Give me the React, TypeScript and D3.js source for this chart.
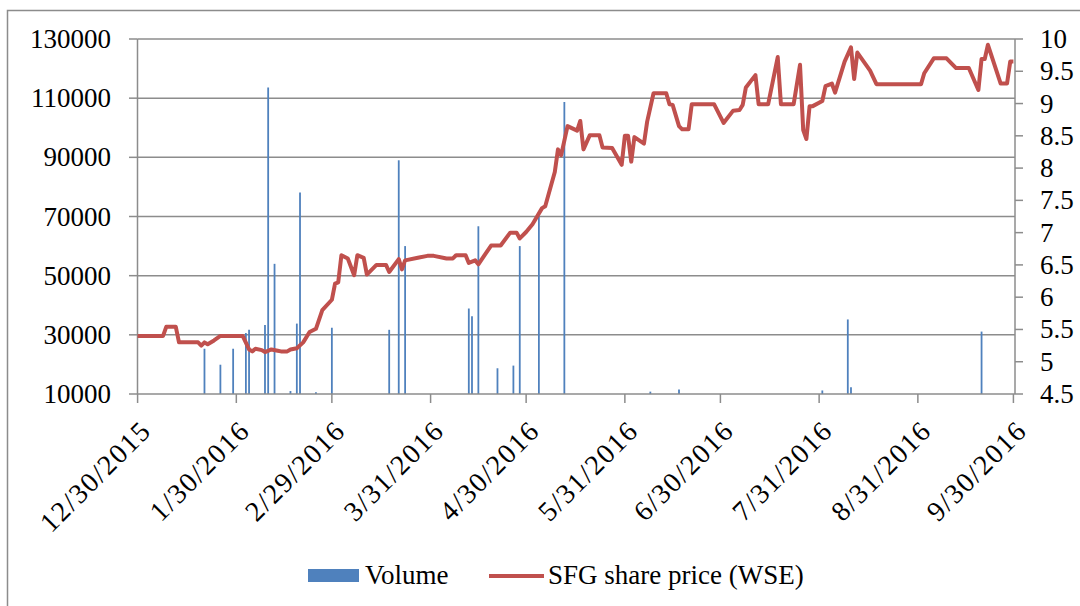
import React from "react";
import * as d3 from "d3";

const priceDates = [
  "2015-12-30","2016-01-07","2016-01-08","2016-01-11","2016-01-12","2016-01-18","2016-01-19","2016-01-20","2016-01-21","2016-01-23",
  "2016-01-25","2016-02-01","2016-02-03","2016-02-04","2016-02-05","2016-02-07","2016-02-08","2016-02-10","2016-02-12","2016-02-13",
  "2016-02-15","2016-02-16","2016-02-18","2016-02-20","2016-02-22","2016-02-24","2016-02-26","2016-02-29","2016-03-01","2016-03-02",
  "2016-03-03","2016-03-05","2016-03-07","2016-03-08","2016-03-10","2016-03-11","2016-03-14","2016-03-17","2016-03-18","2016-03-21",
  "2016-03-22","2016-03-23","2016-03-27","2016-03-30","2016-04-01","2016-04-05","2016-04-07","2016-04-08","2016-04-11","2016-04-12",
  "2016-04-14","2016-04-15","2016-04-19","2016-04-22","2016-04-25","2016-04-27","2016-04-28","2016-04-30","2016-05-02","2016-05-05",
  "2016-05-06","2016-05-09","2016-05-10","2016-05-11","2016-05-13","2016-05-16","2016-05-17","2016-05-18","2016-05-20","2016-05-23",
  "2016-05-24","2016-05-27","2016-05-30","2016-05-31","2016-06-01","2016-06-02","2016-06-03","2016-06-06","2016-06-07","2016-06-09",
  "2016-06-13","2016-06-14","2016-06-15","2016-06-17","2016-06-18","2016-06-20","2016-06-21","2016-06-28","2016-07-01","2016-07-04",
  "2016-07-06","2016-07-07","2016-07-08","2016-07-11","2016-07-12","2016-07-15","2016-07-18","2016-07-19","2016-07-23","2016-07-25",
  "2016-07-26","2016-07-27","2016-07-28","2016-07-29","2016-08-01","2016-08-02","2016-08-04","2016-08-05","2016-08-08","2016-08-10",
  "2016-08-11","2016-08-12","2016-08-16","2016-08-18","2016-08-19","2016-09-01","2016-09-02","2016-09-05","2016-09-09","2016-09-12",
  "2016-09-16","2016-09-19","2016-09-20","2016-09-21","2016-09-22","2016-09-26","2016-09-28","2016-09-29","2016-09-30"
];
const priceValues = [
  5.40,5.40,5.54,5.54,5.30,5.30,5.25,5.30,5.27,5.33,
  5.40,5.40,5.19,5.16,5.20,5.18,5.15,5.19,5.17,5.16,
  5.16,5.19,5.21,5.30,5.46,5.51,5.80,5.96,6.21,6.23,
  6.65,6.60,6.34,6.65,6.61,6.35,6.50,6.50,6.39,6.59,
  6.43,6.57,6.61,6.64,6.64,6.60,6.60,6.65,6.65,6.53,
  6.57,6.51,6.80,6.80,7.00,7.00,6.91,7.01,7.13,7.38,
  7.41,7.94,8.29,8.20,8.65,8.58,8.73,8.29,8.51,8.51,
  8.32,8.31,8.05,8.50,8.50,8.10,8.48,8.38,8.72,9.16,
  9.16,8.99,8.98,8.65,8.60,8.60,8.99,8.99,8.70,8.89,
  8.90,8.98,9.25,9.44,8.99,8.99,9.72,8.99,8.99,9.60,
  8.59,8.45,8.96,8.96,9.04,9.27,9.31,9.17,9.65,9.87,
  9.38,9.79,9.51,9.30,9.30,9.30,9.47,9.70,9.70,9.55,
  9.55,9.21,9.69,9.69,9.91,9.31,9.31,9.65,9.65
];

const volumeDates = [
  "2016-01-20","2016-01-25","2016-01-29","2016-02-02","2016-02-03","2016-02-08","2016-02-09","2016-02-11","2016-02-16","2016-02-18",
  "2016-02-19","2016-02-24","2016-02-29","2016-03-18","2016-03-21","2016-03-23","2016-04-12","2016-04-13","2016-04-15","2016-04-21",
  "2016-04-26","2016-04-28","2016-05-04","2016-05-12","2016-06-08","2016-06-17","2016-08-01","2016-08-09","2016-08-10","2016-09-20"
];
const volumeValues = [
  25300,19900,25300,30600,31700,33300,113600,54000,11000,33800,
  78100,10600,32400,31700,89000,60000,38900,36300,66700,18700,
  19600,60000,70000,108700,10800,11500,11200,35200,12300,31100
];

const xTickDates = ["2015-12-30","2016-01-30","2016-02-29","2016-03-31","2016-04-30","2016-05-31","2016-06-30","2016-07-31","2016-08-31","2016-09-30"];
const xTickLabels = ["12/30/2015","1/30/2016","2/29/2016","3/31/2016","4/30/2016","5/31/2016","6/30/2016","7/31/2016","8/31/2016","9/30/2016"];
const leftTicks = [10000, 30000, 50000, 70000, 90000, 110000, 130000];
const rightTicks = [4.5, 5, 5.5, 6, 6.5, 7, 7.5, 8, 8.5, 9, 9.5, 10];

const seriesNames = ["Volume", "SFG share price (WSE)"];

const parse = d3.utcParse("%Y-%m-%d");

export default function App() {
  const W = 1080, H = 606;
  const left = 137.5, right = 1015, top = 39, bottom = 394;
  const font = "'Liberation Serif', 'Times New Roman', serif";
  const grid = "#8c8c8c";
  const blue = "#4f81bd";
  const red = "#c0504d";

  const x = d3.scaleUtc()
    .domain([d3.utcHour.offset(parse("2015-12-30")!, -12), d3.utcHour.offset(parse("2016-09-30")!, 12)])
    .range([136, right]);
  const yL = d3.scaleLinear().domain([10000, 130000]).range([bottom, top]);
  const yR = d3.scaleLinear().domain([4.5, 10]).range([bottom, top]);

  const pricePts = priceDates.map((d, i) => ({ d: parse(d)!, v: priceValues[i] }));
  const line = d3.line<{ d: Date; v: number }>().x(p => x(p.d)).y(p => yR(p.v));

  return (
    <svg width={W} height={H} style={{ position: "absolute", left: 0, top: 0, background: "#fff" }}>
      <rect x={0} y={0} width={W} height={H} fill="#fff" />
      {/* outer frame */}
      <path d={`M7.5,${H} V10.5 H${W}`} fill="none" stroke={grid} strokeWidth={1.5} />

      {/* gridlines */}
      {leftTicks.slice(1).map(t => (
        <line key={t} x1={left} x2={right} y1={yL(t)} y2={yL(t)} stroke={grid} strokeWidth={1.5} />
      ))}

      {/* bars */}
      {volumeDates.map((d, i) => (
        <line key={d} x1={x(parse(d)!)} x2={x(parse(d)!)} y1={yL(10000)} y2={yL(volumeValues[i])} stroke={blue} strokeWidth={1.8} />
      ))}

      {/* axes */}
      <line x1={left} x2={left} y1={top} y2={bottom} stroke={grid} strokeWidth={1.5} />
      {leftTicks.map(t => (
        <g key={t}>
          <line x1={129} x2={left} y1={yL(t)} y2={yL(t)} stroke={grid} strokeWidth={1.5} />
          <text x={111} y={yL(t)} textAnchor="end" dominantBaseline="central" fontFamily={font} fontSize={27} fill="#000">{t}</text>
        </g>
      ))}
      <line x1={right} x2={right} y1={top} y2={bottom} stroke={grid} strokeWidth={1.5} />
      {rightTicks.map(t => (
        <g key={t}>
          <line x1={right} x2={1023} y1={yR(t)} y2={yR(t)} stroke={grid} strokeWidth={1.5} />
          <text x={1040} y={yR(t)} textAnchor="start" dominantBaseline="central" fontFamily={font} fontSize={27} fill="#000">{t}</text>
        </g>
      ))}
      <line x1={left} x2={right} y1={bottom} y2={bottom} stroke={grid} strokeWidth={1.5} />
      {xTickDates.map((d, i) => {
        const tx = x(parse(d)!);
        return (
          <g key={d}>
            <line x1={tx} x2={tx} y1={bottom} y2={403} stroke={grid} strokeWidth={1.5} />
            <text transform={`translate(${tx + 1},${418}) rotate(-45)`} textAnchor="end" dominantBaseline="hanging" fontFamily={font} fontSize={28} letterSpacing={1.6} fill="#000">{xTickLabels[i]}</text>
          </g>
        );
      })}

      {/* price line */}
      <path d={line(pricePts) || ""} fill="none" stroke={red} strokeWidth={4} strokeLinejoin="round" />

      {/* legend */}
      <rect x={308} y={569} width={51} height={13} fill={blue} />
      <text x={365} y={584} fontFamily={font} fontSize={27} fill="#000">{seriesNames[0]}</text>
      <line x1={489} x2={544} y1={576} y2={576} stroke={red} strokeWidth={4} />
      <text x={548} y={584} fontFamily={font} fontSize={27} fill="#000">{seriesNames[1]}</text>
    </svg>
  );
}
